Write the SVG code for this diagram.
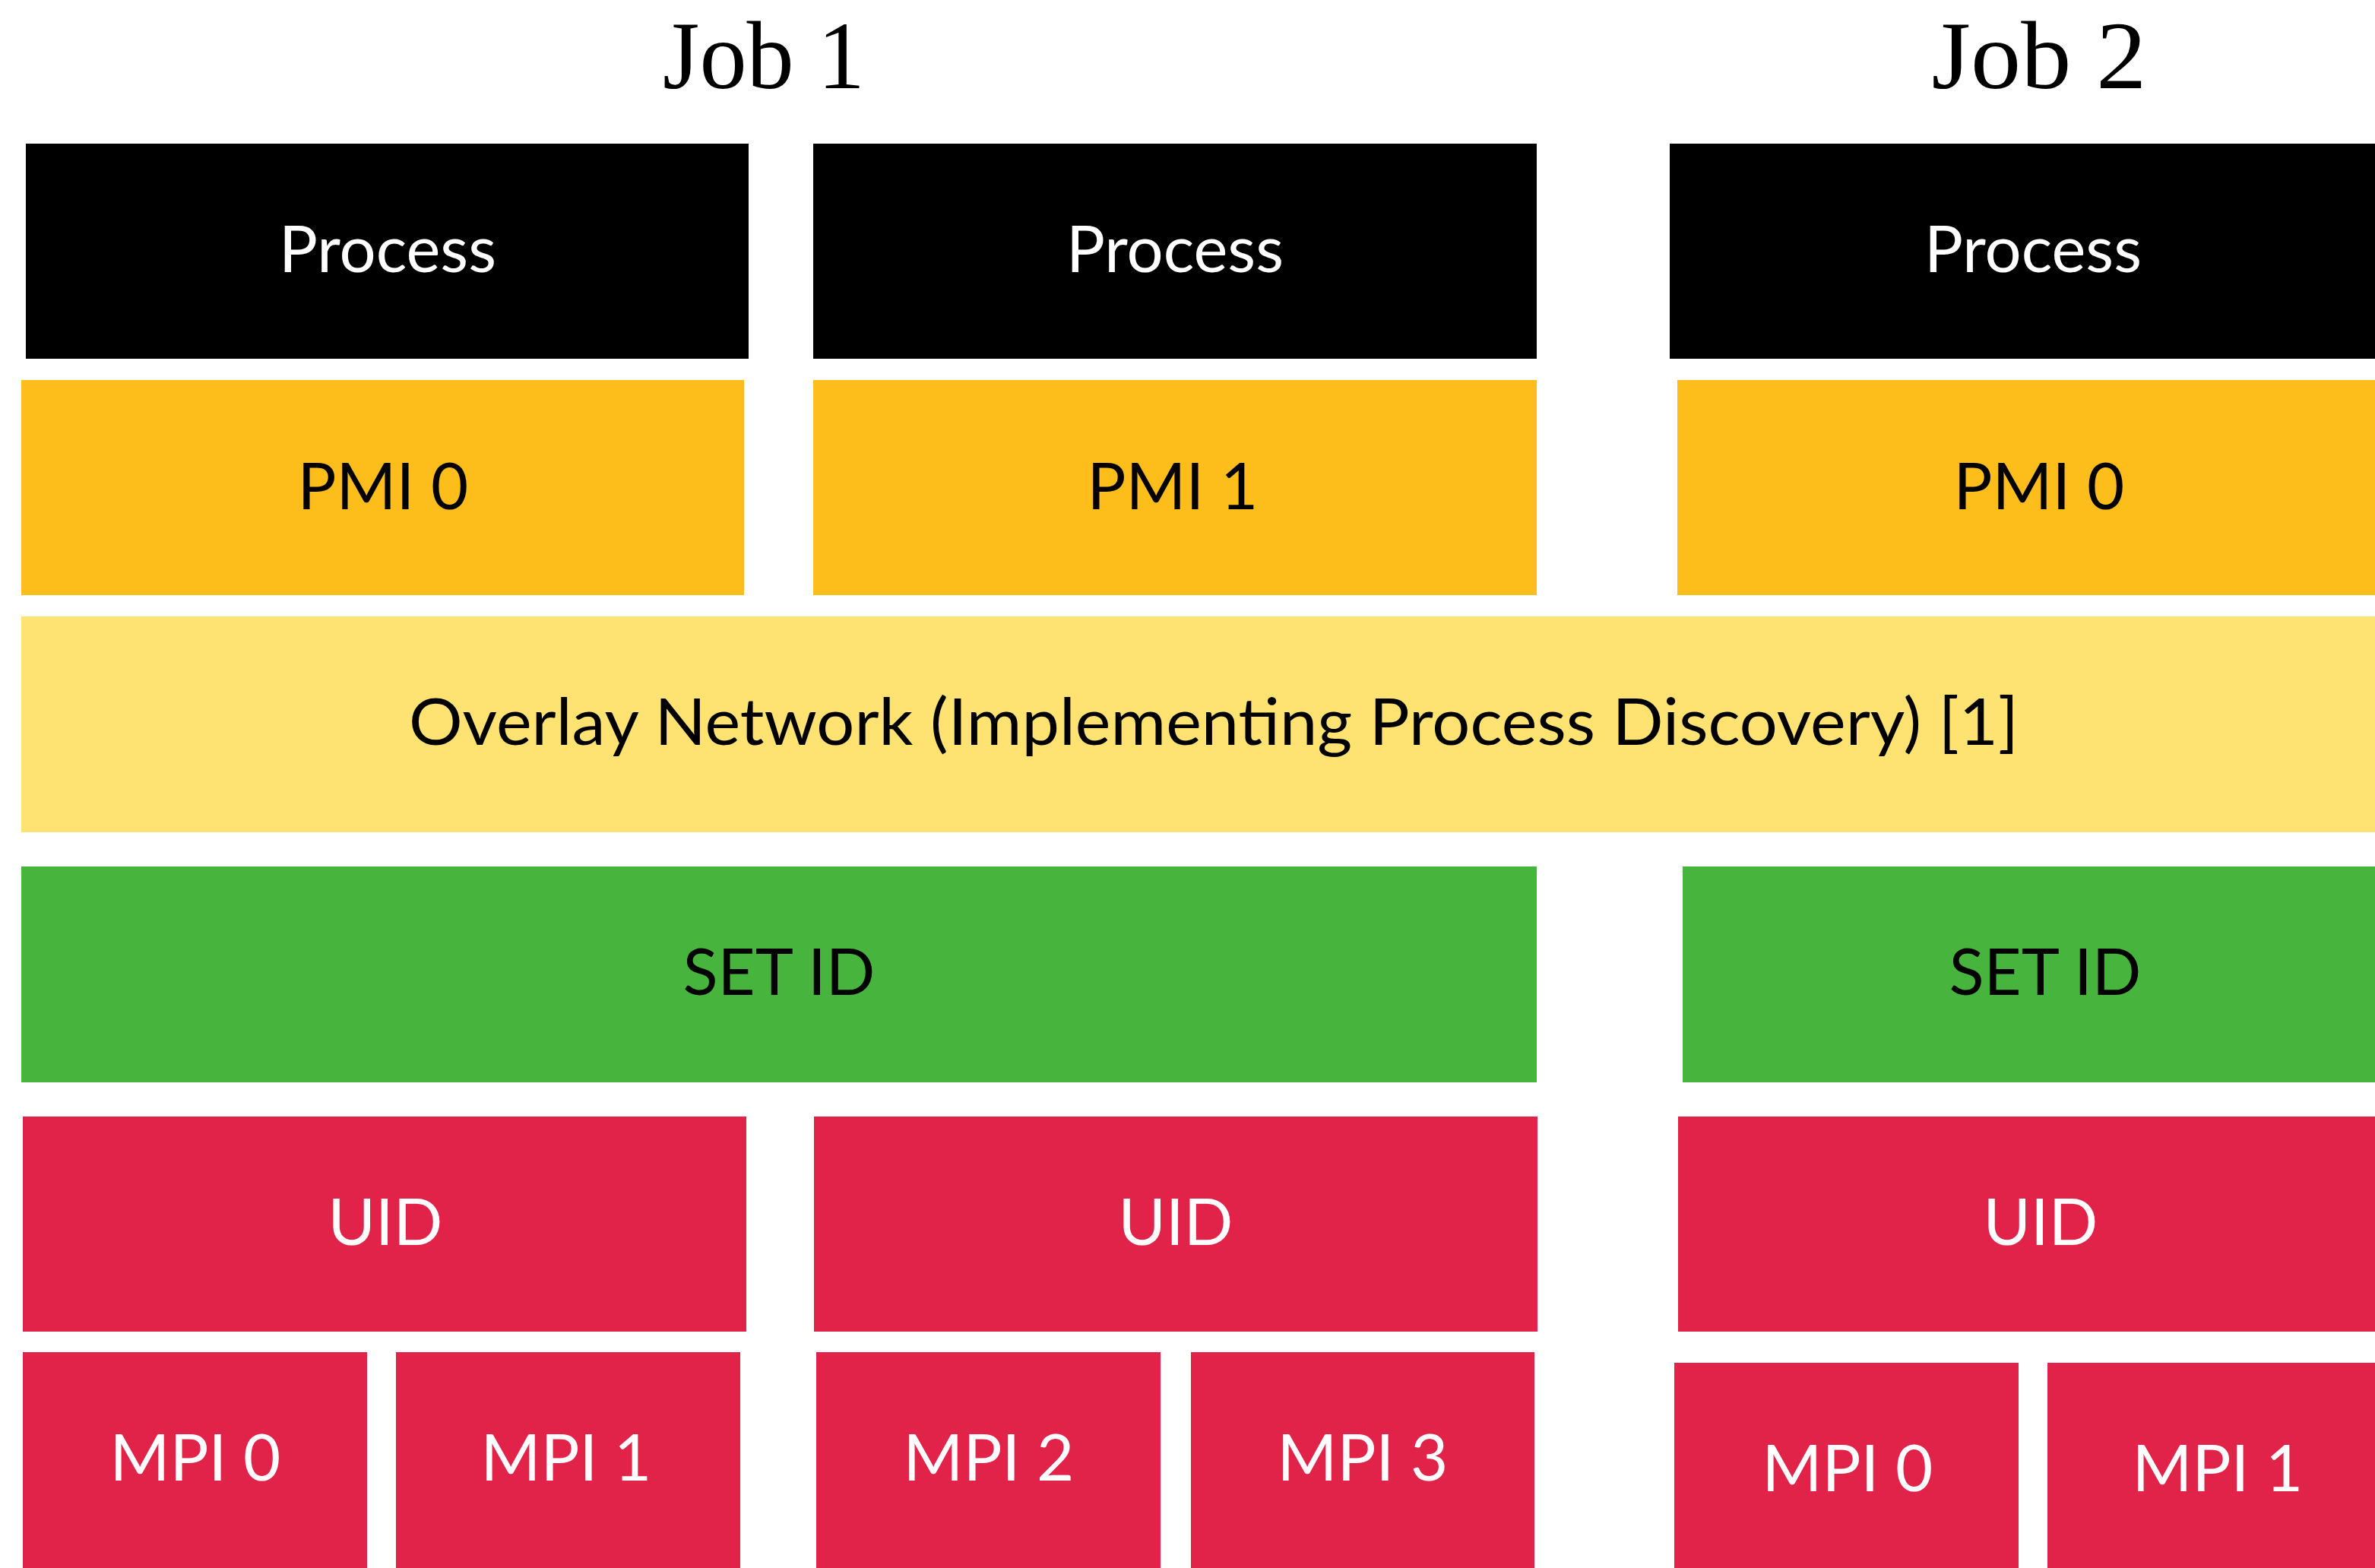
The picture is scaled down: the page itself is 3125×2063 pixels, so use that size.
<svg xmlns="http://www.w3.org/2000/svg" width="3125" height="2063" viewBox="0 0 3125 2063">
  <style>
    .title { font-family: "Liberation Serif", "DejaVu Serif", serif; font-size: 126px; fill: #000; text-anchor: middle; }
    .lbl { font-family: Lato, "Open Sans", "Liberation Sans", sans-serif; font-size: 85px; text-anchor: middle; }
    .proc { fill: #000000; }
    .pmi { fill: #FDBD1A; }
    .net { fill: #FEE373; }
    .set { fill: #47B43D; }
    .red { fill: #E1234A; }
    .w { fill: #FFFFFF; }
    .k { fill: #000000; }
  </style>
  <rect width="3125" height="2063" fill="#FFFFFF"/>

  <!-- job headings -->
  <text class="title" x="1005" y="116" textLength="266" lengthAdjust="spacingAndGlyphs">Job 1</text>
  <text class="title" x="2683" y="116" textLength="283" lengthAdjust="spacingAndGlyphs">Job 2</text>

  <!-- process row -->
  <g id="process-a"><rect class="proc" x="34" y="189" width="951" height="283"/><text class="lbl w" x="510" y="358">Process</text></g>
  <g id="process-b"><rect class="proc" x="1070" y="189" width="952" height="283"/><text class="lbl w" x="1546" y="358">Process</text></g>
  <g id="process-c"><rect class="proc" x="2197" y="189" width="956" height="283"/><text class="lbl w" x="2675" y="358">Process</text></g>

  <!-- PMI row -->
  <g id="pmi-a"><rect class="pmi" x="28" y="500" width="951" height="283"/><text class="lbl k" x="504" y="670">PMI 0</text></g>
  <g id="pmi-b"><rect class="pmi" x="1070" y="500" width="952" height="283"/><text class="lbl k" x="1543" y="670">PMI 1</text></g>
  <g id="pmi-c"><rect class="pmi" x="2207" y="500" width="952" height="283"/><text class="lbl k" x="2683" y="670">PMI 0</text></g>

  <!-- overlay network -->
  <g id="overlay"><rect class="net" x="28" y="811" width="3125" height="284"/><text class="lbl k" x="1597" y="980" textLength="2118" lengthAdjust="spacingAndGlyphs">Overlay Network (Implementing Process Discovery) [1]</text></g>

  <!-- set id row -->
  <g id="setid-a"><rect class="set" x="28" y="1140" width="1994" height="284"/><text class="lbl k" x="1025" y="1309">SET ID</text></g>
  <g id="setid-b"><rect class="set" x="2214" y="1140" width="954" height="284"/><text class="lbl k" x="2691" y="1309">SET ID</text></g>

  <!-- uid row -->
  <g id="uid-a"><rect class="red" x="30" y="1469" width="952" height="283"/><text class="lbl w" x="507" y="1638">UID</text></g>
  <g id="uid-b"><rect class="red" x="1071" y="1469" width="952" height="283"/><text class="lbl w" x="1547" y="1638">UID</text></g>
  <g id="uid-c"><rect class="red" x="2208" y="1469" width="954" height="283"/><text class="lbl w" x="2685" y="1638">UID</text></g>

  <!-- mpi row -->
  <g id="mpi-a0"><rect class="red" x="30" y="1779" width="453" height="300"/><text class="lbl w" x="257" y="1948">MPI 0</text></g>
  <g id="mpi-a1"><rect class="red" x="521" y="1779" width="453" height="300"/><text class="lbl w" x="745" y="1948">MPI 1</text></g>
  <g id="mpi-a2"><rect class="red" x="1074" y="1779" width="453" height="300"/><text class="lbl w" x="1301" y="1948">MPI 2</text></g>
  <g id="mpi-a3"><rect class="red" x="1567" y="1779" width="452" height="300"/><text class="lbl w" x="1793" y="1948">MPI 3</text></g>
  <g id="mpi-b0"><rect class="red" x="2203" y="1793" width="453" height="300"/><text class="lbl w" x="2431" y="1962">MPI 0</text></g>
  <g id="mpi-b1"><rect class="red" x="2694" y="1793" width="453" height="300"/><text class="lbl w" x="2918" y="1962">MPI 1</text></g>

  <g id="connectors"/>
</svg>
